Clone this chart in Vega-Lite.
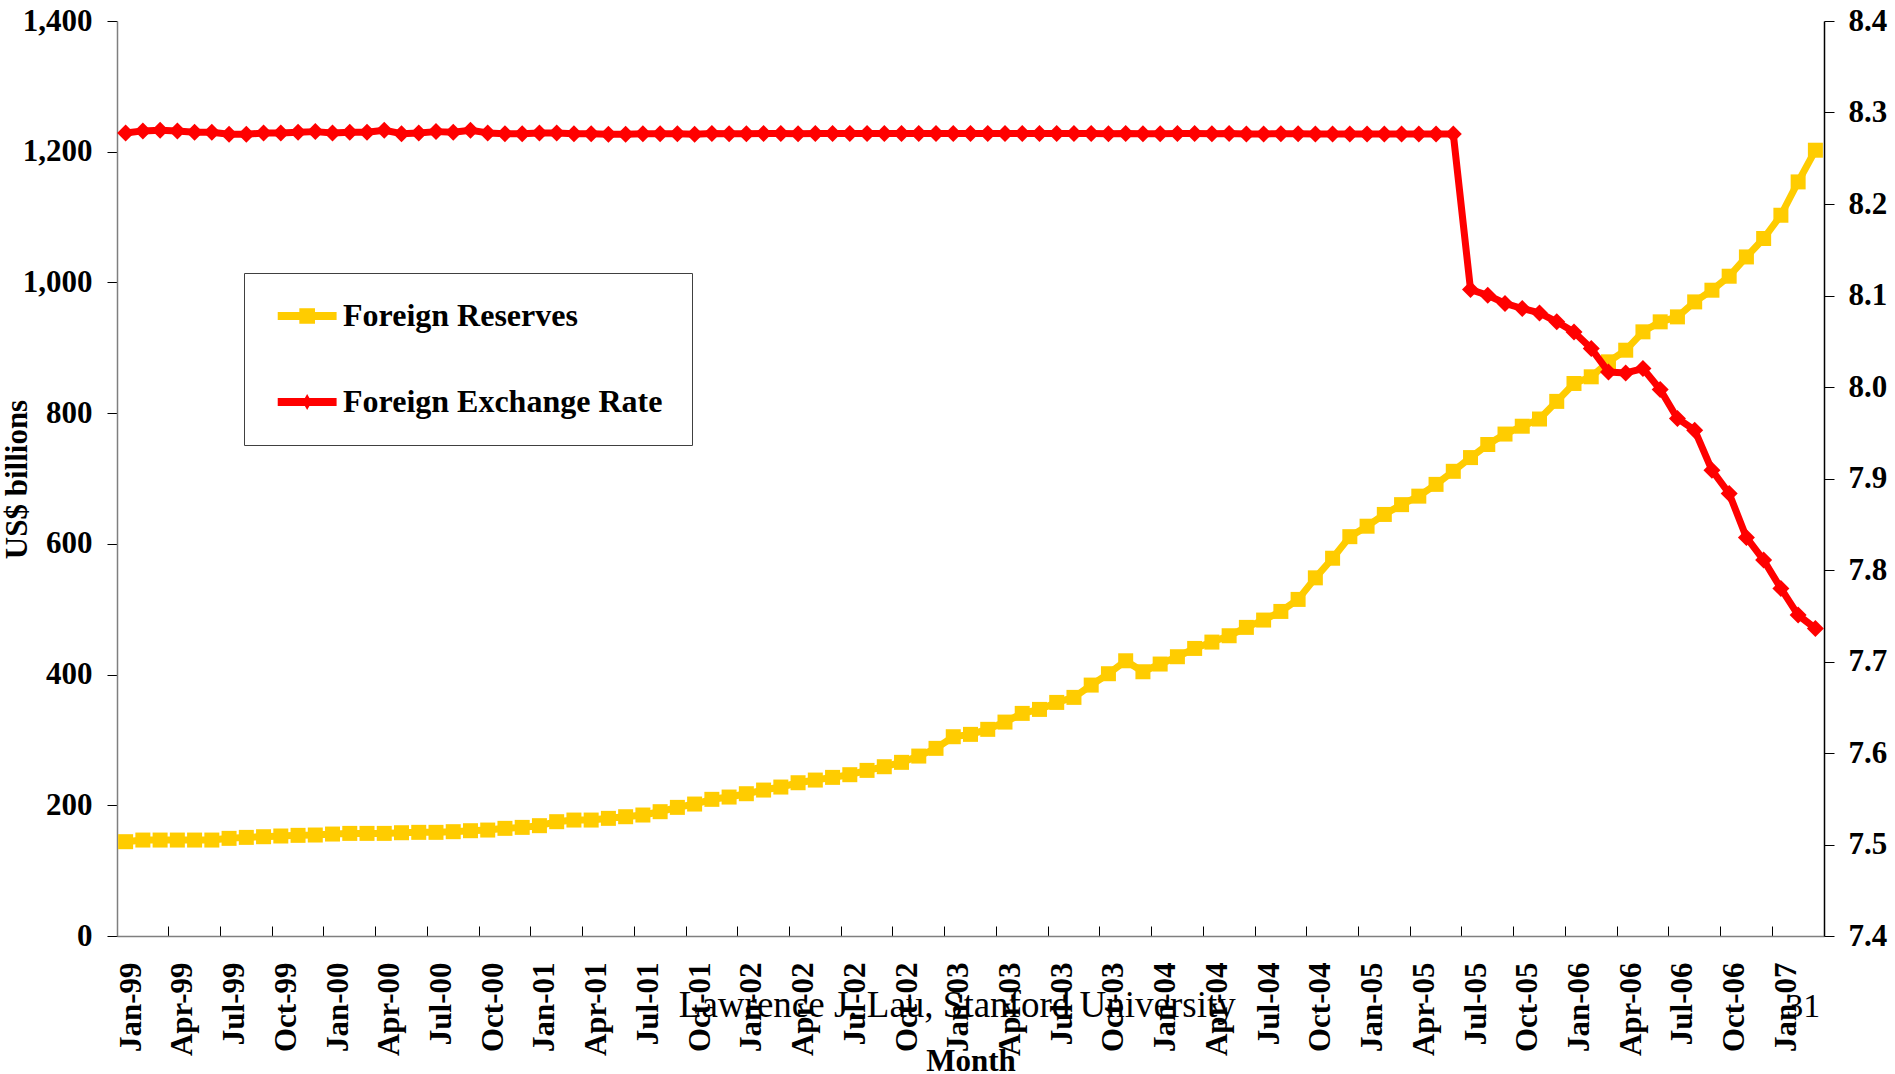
{
  "$schema": "https://vega.github.io/schema/vega-lite/v6.json",
  "width": 1707,
  "height": 915,
  "autosize": {"type": "none"},
  "padding": {"left": 117, "top": 21, "right": 71, "bottom": 138},
  "background": "white",
  "config": {
    "view": {"stroke": null},
    "font": "Liberation Serif",
    "axis": {
      "labelFont": "Liberation Serif", "labelFontWeight": "bold", "labelFontSize": 31, "labelColor": "black",
      "titleFont": "Liberation Serif", "titleFontWeight": "bold", "titleFontSize": 31, "titleColor": "black",
      "tickColor": "black", "tickWidth": 1, "grid": false,
      "labelOverlap": false, "labelFlush": false, "labelBound": false
    }
  },
  "data": {"values": [
    {"month": "Jan-99", "reserves": 144.3, "rate": 8.2777},
    {"month": "Feb-99", "reserves": 146.8, "rate": 8.2799},
    {"month": "Mar-99", "reserves": 146.8, "rate": 8.2806},
    {"month": "Apr-99", "reserves": 146.8, "rate": 8.2799},
    {"month": "May-99", "reserves": 146.8, "rate": 8.2784},
    {"month": "Jun-99", "reserves": 146.8, "rate": 8.2784},
    {"month": "Jul-99", "reserves": 149.4, "rate": 8.2762},
    {"month": "Aug-99", "reserves": 150.9, "rate": 8.2762},
    {"month": "Sep-99", "reserves": 151.9, "rate": 8.2777},
    {"month": "Oct-99", "reserves": 153.0, "rate": 8.2777},
    {"month": "Nov-99", "reserves": 154.0, "rate": 8.2784},
    {"month": "Dec-99", "reserves": 154.5, "rate": 8.2791},
    {"month": "Jan-00", "reserves": 156.0, "rate": 8.2777},
    {"month": "Feb-00", "reserves": 157.0, "rate": 8.2784},
    {"month": "Mar-00", "reserves": 157.0, "rate": 8.2784},
    {"month": "Apr-00", "reserves": 157.0, "rate": 8.2806},
    {"month": "May-00", "reserves": 158.0, "rate": 8.2769},
    {"month": "Jun-00", "reserves": 158.6, "rate": 8.2777},
    {"month": "Jul-00", "reserves": 158.6, "rate": 8.2791},
    {"month": "Aug-00", "reserves": 159.6, "rate": 8.2784},
    {"month": "Sep-00", "reserves": 161.1, "rate": 8.2806},
    {"month": "Oct-00", "reserves": 162.1, "rate": 8.2777},
    {"month": "Nov-00", "reserves": 164.7, "rate": 8.2769},
    {"month": "Dec-00", "reserves": 166.2, "rate": 8.2769},
    {"month": "Jan-01", "reserves": 168.8, "rate": 8.2777},
    {"month": "Feb-01", "reserves": 174.9, "rate": 8.2777},
    {"month": "Mar-01", "reserves": 177.4, "rate": 8.2769},
    {"month": "Apr-01", "reserves": 177.4, "rate": 8.2769},
    {"month": "May-01", "reserves": 180.0, "rate": 8.2762},
    {"month": "Jun-01", "reserves": 182.5, "rate": 8.2762},
    {"month": "Jul-01", "reserves": 185.1, "rate": 8.2769},
    {"month": "Aug-01", "reserves": 190.2, "rate": 8.2769},
    {"month": "Sep-01", "reserves": 196.8, "rate": 8.2769},
    {"month": "Oct-01", "reserves": 201.9, "rate": 8.2762},
    {"month": "Nov-01", "reserves": 209.1, "rate": 8.2770},
    {"month": "Dec-01", "reserves": 212.6, "rate": 8.2768},
    {"month": "Jan-02", "reserves": 217.7, "rate": 8.2768},
    {"month": "Feb-02", "reserves": 223.3, "rate": 8.2770},
    {"month": "Mar-02", "reserves": 227.9, "rate": 8.2770},
    {"month": "Apr-02", "reserves": 234.5, "rate": 8.2768},
    {"month": "May-02", "reserves": 238.6, "rate": 8.2770},
    {"month": "Jun-02", "reserves": 242.7, "rate": 8.2770},
    {"month": "Jul-02", "reserves": 246.8, "rate": 8.2770},
    {"month": "Aug-02", "reserves": 253.4, "rate": 8.2770},
    {"month": "Sep-02", "reserves": 259.0, "rate": 8.2770},
    {"month": "Oct-02", "reserves": 265.7, "rate": 8.2770},
    {"month": "Nov-02", "reserves": 275.3, "rate": 8.2770},
    {"month": "Dec-02", "reserves": 287.1, "rate": 8.2770},
    {"month": "Jan-03", "reserves": 304.9, "rate": 8.2770},
    {"month": "Feb-03", "reserves": 308.5, "rate": 8.2770},
    {"month": "Mar-03", "reserves": 316.2, "rate": 8.2770},
    {"month": "Apr-03", "reserves": 327.3, "rate": 8.2770},
    {"month": "May-03", "reserves": 340.6, "rate": 8.2770},
    {"month": "Jun-03", "reserves": 346.7, "rate": 8.2770},
    {"month": "Jul-03", "reserves": 357.4, "rate": 8.2770},
    {"month": "Aug-03", "reserves": 365.1, "rate": 8.2770},
    {"month": "Sep-03", "reserves": 383.9, "rate": 8.2770},
    {"month": "Oct-03", "reserves": 401.3, "rate": 8.2767},
    {"month": "Nov-03", "reserves": 421.1, "rate": 8.2770},
    {"month": "Dec-03", "reserves": 404.3, "rate": 8.2767},
    {"month": "Jan-04", "reserves": 416.1, "rate": 8.2769},
    {"month": "Feb-04", "reserves": 427.3, "rate": 8.2770},
    {"month": "Mar-04", "reserves": 440.0, "rate": 8.2770},
    {"month": "Apr-04", "reserves": 449.7, "rate": 8.2769},
    {"month": "May-04", "reserves": 459.4, "rate": 8.2770},
    {"month": "Jun-04", "reserves": 472.2, "rate": 8.2766},
    {"month": "Jul-04", "reserves": 483.4, "rate": 8.2766},
    {"month": "Aug-04", "reserves": 496.6, "rate": 8.2768},
    {"month": "Sep-04", "reserves": 515.0, "rate": 8.2768},
    {"month": "Oct-04", "reserves": 548.0, "rate": 8.2765},
    {"month": "Nov-04", "reserves": 578.0, "rate": 8.2765},
    {"month": "Dec-04", "reserves": 611.0, "rate": 8.2765},
    {"month": "Jan-05", "reserves": 627.0, "rate": 8.2765},
    {"month": "Feb-05", "reserves": 645.0, "rate": 8.2765},
    {"month": "Mar-05", "reserves": 660.0, "rate": 8.2765},
    {"month": "Apr-05", "reserves": 673.0, "rate": 8.2765},
    {"month": "May-05", "reserves": 691.0, "rate": 8.2765},
    {"month": "Jun-05", "reserves": 711.0, "rate": 8.2765},
    {"month": "Jul-05", "reserves": 732.0, "rate": 8.1065},
    {"month": "Aug-05", "reserves": 752.0, "rate": 8.1003},
    {"month": "Sep-05", "reserves": 768.0, "rate": 8.0913},
    {"month": "Oct-05", "reserves": 780.0, "rate": 8.0858},
    {"month": "Nov-05", "reserves": 791.0, "rate": 8.0810},
    {"month": "Dec-05", "reserves": 818.0, "rate": 8.0712},
    {"month": "Jan-06", "reserves": 845.4, "rate": 8.0602},
    {"month": "Feb-06", "reserves": 855.6, "rate": 8.0420},
    {"month": "Mar-06", "reserves": 878.5, "rate": 8.0165},
    {"month": "Apr-06", "reserves": 896.3, "rate": 8.0154},
    {"month": "May-06", "reserves": 924.4, "rate": 8.0202},
    {"month": "Jun-06", "reserves": 939.7, "rate": 7.9973},
    {"month": "Jul-06", "reserves": 947.3, "rate": 7.9656},
    {"month": "Aug-06", "reserves": 970.2, "rate": 7.9528},
    {"month": "Sep-06", "reserves": 988.1, "rate": 7.9091},
    {"month": "Oct-06", "reserves": 1009.5, "rate": 7.8836},
    {"month": "Nov-06", "reserves": 1039.0, "rate": 7.8356},
    {"month": "Dec-06", "reserves": 1067.2, "rate": 7.8108},
    {"month": "Jan-07", "reserves": 1102.8, "rate": 7.7799},
    {"month": "Feb-07", "reserves": 1153.8, "rate": 7.7507},
    {"month": "Mar-07", "reserves": 1202.3, "rate": 7.7362}
  ]},
  "layer": [
    {
      "layer": [
        {
          "mark": {"type": "line", "color": "#FFCC00", "strokeWidth": 7, "strokeJoin": "round", "strokeCap": "round"},
          "encoding": {
            "x": {
              "field": "month", "type": "ordinal",
              "scale": {"type": "band", "paddingInner": 0, "paddingOuter": 0, "domain": ["Jan-99","Feb-99","Mar-99","Apr-99","May-99","Jun-99","Jul-99","Aug-99","Sep-99","Oct-99","Nov-99","Dec-99","Jan-00","Feb-00","Mar-00","Apr-00","May-00","Jun-00","Jul-00","Aug-00","Sep-00","Oct-00","Nov-00","Dec-00","Jan-01","Feb-01","Mar-01","Apr-01","May-01","Jun-01","Jul-01","Aug-01","Sep-01","Oct-01","Nov-01","Dec-01","Jan-02","Feb-02","Mar-02","Apr-02","May-02","Jun-02","Jul-02","Aug-02","Sep-02","Oct-02","Nov-02","Dec-02","Jan-03","Feb-03","Mar-03","Apr-03","May-03","Jun-03","Jul-03","Aug-03","Sep-03","Oct-03","Nov-03","Dec-03","Jan-04","Feb-04","Mar-04","Apr-04","May-04","Jun-04","Jul-04","Aug-04","Sep-04","Oct-04","Nov-04","Dec-04","Jan-05","Feb-05","Mar-05","Apr-05","May-05","Jun-05","Jul-05","Aug-05","Sep-05","Oct-05","Nov-05","Dec-05","Jan-06","Feb-06","Mar-06","Apr-06","May-06","Jun-06","Jul-06","Aug-06","Sep-06","Oct-06","Nov-06","Dec-06","Jan-07","Feb-07","Mar-07"]},
              "axis": {
                "values": ["Jan-99","Apr-99","Jul-99","Oct-99","Jan-00","Apr-00","Jul-00","Oct-00","Jan-01","Apr-01","Jul-01","Oct-01","Jan-02","Apr-02","Jul-02","Oct-02","Jan-03","Apr-03","Jul-03","Oct-03","Jan-04","Apr-04","Jul-04","Oct-04","Jan-05","Apr-05","Jul-05","Oct-05","Jan-06","Apr-06","Jul-06","Oct-06","Jan-07"],
                "bandPosition": 0,
                "labelAngle": 270,
                "labelOffset": 6,
                "labelPadding": 36,
                "tickSize": -10,
                "domainColor": "#7f7f7f",
                "domainWidth": 1.5,
                "title": "Month",
                "titleY": 134,
                "titleBaseline": "alphabetic"
              }
            },
            "y": {
              "field": "reserves", "type": "quantitative",
              "scale": {"domain": [0, 1400], "nice": false, "zero": false},
              "axis": {
                "values": [0, 200, 400, 600, 800, 1000, 1200, 1400],
                "labelExpr": "format(datum.value, ',')",
                "tickSize": 10,
                "labelPadding": 15,
                "domainColor": "#7f7f7f",
                "domainWidth": 1.5,
                "title": "US$ billions",
                "titleAngle": 270,
                "titleX": -91,
                "titleY": 458,
                "titleAlign": "center",
                "titleBaseline": "alphabetic"
              }
            }
          }
        },
        {
          "mark": {"type": "point", "shape": "square", "filled": true, "size": 225, "color": "#FFCC00", "opacity": 1},
          "encoding": {
            "x": {"field": "month", "type": "ordinal"},
            "y": {"field": "reserves", "type": "quantitative"}
          }
        },
        {
          "data": {"values": [{"series": "Foreign Reserves"}, {"series": "Foreign Exchange Rate"}]},
          "mark": {"type": "point", "filled": true, "clip": true, "opacity": 1},
          "encoding": {
            "x": {"datum": "Jan-99", "type": "ordinal"},
            "y": {"datum": -500, "type": "quantitative"},
            "color": {
              "field": "series", "type": "nominal",
              "scale": {"domain": ["Foreign Reserves", "Foreign Exchange Rate"], "range": ["#FFCC00", "#FF0000"]},
              "legend": {
                "title": ".", "titleOrient": "right", "titleColor": "white", "titleFontSize": 10, "titlePadding": 13,
                "orient": "none", "legendX": 127, "legendY": 252,
                "padding": 14, "strokeColor": "#404040", "fillColor": "white",
                "symbolSize": 3364, "symbolStrokeWidth": 0, "symbolOpacity": 1,
                "labelFont": "Liberation Serif", "labelFontWeight": "bold", "labelFontSize": 32, "labelColor": "black",
                "labelOffset": 27, "labelLimit": 1000, "rowPadding": 28
              }
            },
            "shape": {
              "field": "series", "type": "nominal",
              "scale": {"domain": ["Foreign Reserves", "Foreign Exchange Rate"], "range": ["M-0.32,-0.14H1.71V0.14H-0.32Z M0.425,-0.27H0.965V0.27H0.425Z M0,-1 M0,1", "M-0.32,-0.14H1.71V0.14H-0.32Z M0.695,-0.28L0.85,0L0.695,0.28L0.54,0Z M0,-1 M0,1"]}
            }
          }
        },
        {
          "data": {"values": [{"note": "Lawrence J. Lau, Stanford University"}]},
          "mark": {"type": "text", "font": "Liberation Serif", "fontSize": 37, "color": "black", "align": "center", "baseline": "alphabetic", "dx": 4},
          "encoding": {
            "x": {"datum": "Jan-03", "type": "ordinal"},
            "y": {"datum": -123.4, "type": "quantitative"},
            "text": {"field": "note"}
          }
        },
        {
          "data": {"values": [{"note": "31"}]},
          "mark": {"type": "text", "font": "Liberation Serif", "fontSize": 34, "color": "black", "align": "center", "baseline": "alphabetic", "dx": 5},
          "encoding": {
            "x": {"datum": "Feb-07", "type": "ordinal"},
            "y": {"datum": -123.4, "type": "quantitative"},
            "text": {"field": "note"}
          }
        }
      ]
    },
    {
      "layer": [
        {
          "mark": {"type": "line", "color": "#FF0000", "strokeWidth": 7, "strokeJoin": "round", "strokeCap": "round"},
          "encoding": {
            "x": {"field": "month", "type": "ordinal"},
            "y": {
              "field": "rate", "type": "quantitative",
              "scale": {"domain": [7.4, 8.4], "nice": false, "zero": false},
              "axis": {
                "orient": "right",
                "values": [7.4, 7.5, 7.6, 7.7, 7.8, 7.9, 8.0, 8.1, 8.2, 8.3, 8.4],
                "format": ".1f",
                "tickSize": 10,
                "labelPadding": 14,
                "domainColor": "black",
                "domainWidth": 1.5,
                "title": null
              }
            }
          }
        },
        {
          "mark": {"type": "point", "shape": "diamond", "filled": true, "size": 289, "color": "#FF0000", "opacity": 1},
          "encoding": {
            "x": {"field": "month", "type": "ordinal"},
            "y": {"field": "rate", "type": "quantitative"}
          }
        }
      ]
    }
  ],
  "resolve": {"scale": {"y": "independent"}}
}
